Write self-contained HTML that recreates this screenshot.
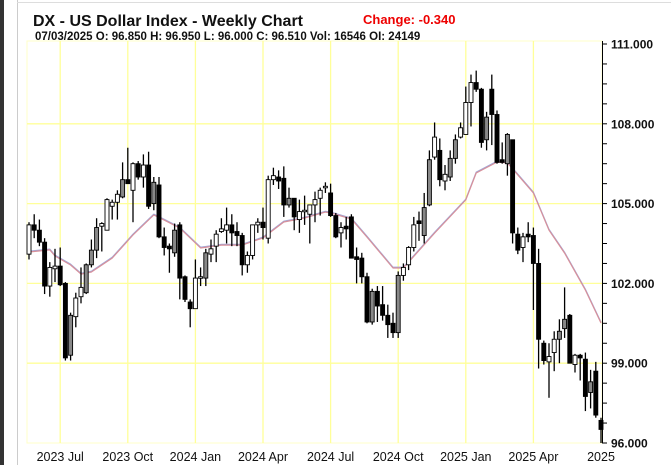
<!DOCTYPE html>
<html><head><meta charset="utf-8"><style>
html,body{margin:0;padding:0;background:#fff;width:671px;height:465px;overflow:hidden;font-family:"Liberation Sans",Verdana,sans-serif}
</style></head><body>
<svg id="chart" width="671" height="465" xmlns="http://www.w3.org/2000/svg" style="position:absolute;left:0;top:0">
<rect x="0" y="0" width="4" height="465" fill="#333"/>
<line x1="17.5" y1="0" x2="17.5" y2="465" stroke="#ccc"/>
<line x1="17" y1="2.5" x2="671" y2="2.5" stroke="#ddd"/>
<text x="33" y="26" font-size="16" font-weight="bold" fill="#111">DX - US Dollar Index - Weekly Chart</text>
<text x="363" y="24" font-size="13" font-weight="bold" fill="#e00">Change: -0.340</text>
<text x="35" y="40" font-size="11.5" font-weight="bold" fill="#111">07/03/2025 O: 96.850 H: 96.950 L: 96.000 C: 96.510 Vol: 16546 OI: 24149</text>
<g id="grid"></g><g id="ma"></g><g id="candles"></g><g id="axis"></g>
</svg>
<script>
const opens=[103.1,104.2,104.0,103.55,101.9,102.55,102.65,102.0,99.3,100.75,101.5,101.65,102.7,103.25,104.15,104.0,104.9,105.05,105.25,105.9,105.5,106.5,106.0,106.45,105.0,105.7,103.75,103.4,103.15,104.2,102.25,101.3,101.05,102.2,102.2,103.1,103.4,103.95,104.0,104.2,103.95,103.8,102.7,103.05,104.2,104.3,103.7,105.9,106.0,105.95,104.95,105.2,104.4,104.7,104.6,104.95,105.2,105.6,105.4,104.55,103.9,104.15,104.5,103.0,102.95,102.25,100.55,101.7,101.2,100.8,100.5,100.15,102.3,102.7,103.35,104.35,103.8,104.95,106.75,107.0,105.85,106.0,106.7,107.5,107.6,108.8,109.55,109.3,107.4,109.3,108.35,106.65,106.5,107.4,103.85,103.35,103.85,103.8,102.75,99.75,99.05,99.4,99.9,100.3,100.8,98.95,99.3,99.15,97.9,98.7,96.85];
const highs=[104.3,104.6,104.4,103.7,102.8,103.3,103.35,102.05,100.9,101.65,102.6,102.75,103.65,104.45,104.3,105.2,105.15,105.5,106.55,107.1,106.55,106.6,106.85,106.95,106.0,106.0,104.1,103.5,104.25,104.3,102.3,101.4,102.9,102.6,103.3,103.65,104.0,104.45,104.85,104.6,104.3,103.9,103.2,104.2,104.45,104.85,106.05,106.35,106.25,106.4,105.6,105.2,105.15,105.3,104.95,105.45,105.6,105.8,105.75,104.65,104.3,104.5,104.6,103.35,103.15,102.4,101.8,101.9,101.9,101.2,100.9,102.45,102.75,103.4,104.5,104.7,105.4,107.0,108.05,107.45,106.45,107.0,107.6,108.05,109.4,109.85,110.0,109.35,108.45,109.85,108.5,107.3,107.65,107.4,104.1,103.9,104.3,104.1,103.3,99.85,99.75,100.2,100.65,101.85,100.85,99.35,99.35,99.4,98.75,99.05,96.95];
const lows=[102.9,103.7,103.4,101.6,101.5,102.05,101.9,99.1,99.1,100.35,101.25,101.6,102.6,102.95,103.2,104.0,104.4,104.4,105.2,105.75,104.3,105.9,105.6,104.8,104.75,103.7,103.05,102.4,103.0,101.4,101.3,100.35,101.05,101.9,101.9,102.8,102.8,103.9,103.5,103.4,103.4,102.3,102.4,102.9,103.9,103.65,103.5,105.7,105.55,104.5,104.85,104.0,103.9,104.2,103.5,104.3,104.55,105.4,104.5,103.7,103.35,103.65,102.95,102.0,102.0,100.5,100.45,100.55,100.6,99.95,99.95,99.95,102.1,102.5,103.2,103.6,103.5,104.9,106.65,105.65,105.5,105.85,106.5,107.45,107.6,107.9,109.2,107.1,107.0,107.2,106.5,106.5,106.05,103.5,103.1,102.8,103.55,101.0,98.8,98.95,97.7,98.7,99.0,99.95,99.0,98.65,98.35,97.2,97.3,96.95,96.0];
const closes=[104.2,104.0,103.55,101.9,102.6,102.65,101.95,99.2,100.8,101.45,101.85,102.7,103.25,104.1,104.25,105.15,105.05,105.35,105.9,105.75,106.5,106.0,106.45,104.9,105.8,103.75,103.35,103.3,104.0,102.2,101.4,101.05,102.2,102.25,103.15,103.3,103.85,104.05,104.2,103.9,103.8,102.7,103.05,104.2,104.3,104.1,105.9,106.05,105.85,104.95,105.2,104.5,104.7,104.75,104.95,105.15,105.5,105.65,104.55,103.75,104.1,104.05,102.95,102.9,102.25,100.55,101.7,101.15,100.8,100.45,100.15,102.3,102.6,103.35,104.2,104.25,104.85,106.65,107.5,105.9,106.1,106.7,107.4,107.85,108.8,109.55,109.3,107.3,108.25,108.35,106.55,106.55,107.6,103.9,103.25,103.75,103.75,102.75,99.9,99.1,99.25,99.9,100.2,100.65,99.0,99.3,99.2,97.75,98.3,97.05,96.51];
const grayIdx=[8,11,12,13,18,24,28,34,50,66,71,76,77,81,82,88,92,102,103,108];
const maWeeks=[0,4,5,8,10,12,16,20,24,26,29,33,37,41,45,49,53,57,58,62,65,70,72,78,84,86,90,92,97,100,103,107,110];
const maValues=[103.18,103.26,103.03,102.69,102.35,102.43,102.95,103.82,104.57,104.38,104.08,103.33,103.44,103.44,103.71,104.31,104.46,104.68,104.65,104.42,103.74,102.58,102.58,103.89,105.14,106.15,106.56,106.53,105.4,104.0,103.14,101.75,100.51];
const yTicks=[111,108,105,102,99,96];
const xLabels=["2023 Jul","2023 Oct","2024 Jan","2024 Apr","2024 Jul","2024 Oct","2025 Jan","2025 Apr","2025"];
const xLabelWeeks=[6,19,32,45,58,71,84,97,110];

const NS="http://www.w3.org/2000/svg";
const X0=29,DX=5.2,PL=27,PR=602,PT=41,PB=443;
const yS=v=>44+(111-v)*(399/15);
const xS=i=>X0+i*DX;
function mk(tag,attrs,parent){const e=document.createElementNS(NS,tag);for(const k in attrs)e.setAttribute(k,attrs[k]);parent.appendChild(e);return e;}
const grid=document.getElementById('grid'),axis=document.getElementById('axis'),cg=document.getElementById('candles'),mg=document.getElementById('ma');
const bg=mk('rect',{x:PL,y:PT,width:PR-PL,height:PB-PT,fill:'#fff',stroke:'#ffffc8'},grid);


yTicks.forEach(v=>{
  if(v<111&&v>96){const l=mk('line',{x1:PL,x2:PR,y1:yS(v),y2:yS(v),stroke:'#ffff99','stroke-width':1.3},grid);
  
  }
  const t=mk('text',{x:611,y:yS(v)+4.5,'font-size':12,'font-weight':'bold',fill:'#111'},axis);
  t.textContent=v.toFixed(3);
  
  
});
for(let v=96;v<=111.01;v+=0.75){const tk=mk('line',{x1:PR,x2:PR+5,y1:yS(v),y2:yS(v),stroke:'#000'},axis);
  
  }
const ax=mk('line',{x1:PR+0.5,x2:PR+0.5,y1:PT,y2:PB,stroke:'#000'},axis);


xLabels.forEach((lab,k)=>{
  const x=xS(xLabelWeeks[k]);
  if(k<xLabels.length-1){const l=mk('line',{x1:x,x2:x,y1:PT,y2:PB,stroke:'#ffff99','stroke-width':1.3},grid);
  
  }
  const t=mk('text',{x:x,y:461,'font-size':12.5,fill:'#111','text-anchor':'middle'},axis);
  t.textContent=lab;
  
  
});
// moving average
const pts=maValues.map((v,k)=>xS(maWeeks[k]).toFixed(1)+','+yS(v).toFixed(1)).join(' ');
const m1=mk('polyline',{points:pts,fill:'none',stroke:'#9fa8d8','stroke-width':1.2,transform:'translate(0,-0.8)','stroke-linejoin':'round'},mg);


const m2=mk('polyline',{points:pts,fill:'none',stroke:'#d8909a','stroke-width':1.2,'stroke-linejoin':'round'},mg);


// candles
closes.forEach((c,i)=>{
  const o=opens[i],x=xS(i);
  const w=mk('line',{x1:x,x2:x,y1:yS(highs[i]),y2:yS(lows[i]),stroke:'#000','stroke-width':1.3},cg);
  
  
  const top=yS(Math.max(o,c)),bot=yS(Math.min(o,c));
  const fill=c<o?'#000':(grayIdx.includes(i)?'#888':'#fff');
  const b=mk('rect',{x:x-2,y:top,width:4,height:Math.max(1.5,bot-top),fill:fill,stroke:'#000','stroke-width':0.9},cg);
  
  
});
</script>
</body></html>
